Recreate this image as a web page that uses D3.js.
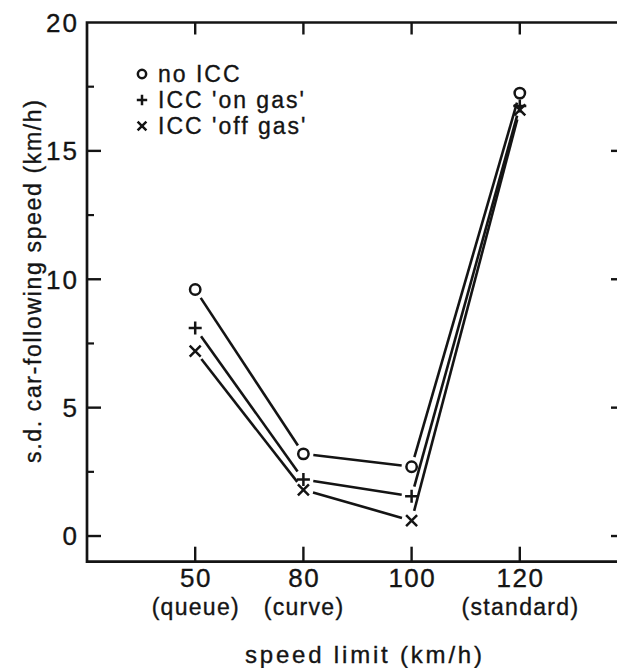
<!DOCTYPE html>
<html>
<head>
<meta charset="utf-8">
<script src="https://cdn.jsdelivr.net/npm/d3@7"></script>
<style>
  html, body { margin: 0; padding: 0; background: #fff; }
  svg { display: block; }
  text { font-family: "Liberation Sans", Arial, sans-serif; fill: #141414; stroke: #141414; stroke-width: 0.35px; }
</style>
</head>
<body>
<div id="chart"></div>
<script>
// ---- data ----
const categories = [50, 80, 100, 120];
const categoryNotes = ["(queue)", "(curve)", "", "(standard)"];
const noICC  = [9.6, 3.2, 2.7, 17.25];
const onGas  = [8.1, 2.2, 1.55, 16.75];
const offGas = [7.2, 1.8, 0.6, 16.6];
const seriesNames = ["no ICC", "ICC 'on gas'", "ICC 'off gas'"];
const yMajorTicks = [0, 5, 10, 15, 20];
const yMinorTicks = [2.5, 7.5, 12.5, 17.5];
const xTitle = "speed limit (km/h)";
const yTitle = "s.d. car-following speed (km/h)";

(function () {
const W = 617, H = 668;
const svg = d3.select("#chart").append("svg").attr("width", W).attr("height", H);

const x = d3.scaleLinear().domain([0, 5]).range([87, 628]);
const y = d3.scaleLinear().domain([-1, 20]).range([561.7, 22.5]);
const xi = i => x(i + 1);

const ink = "#141414";
const axisW = 2.7;

// frame
const yTop = y(20), yBot = y(-1), xLeft = x(0), xRight = x(5);
svg.append("path")
  .attr("d", `M${xRight},${yTop}H${xLeft}V${yBot}H${xRight}V${yTop}`)
  .attr("fill", "none").attr("stroke", ink).attr("stroke-width", axisW);

// y ticks (left and right, inward)
yMajorTicks.forEach(v => {
  if (v < 20) {
    svg.append("line").attr("x1", xLeft).attr("x2", xLeft + 14).attr("y1", y(v)).attr("y2", y(v))
      .attr("stroke", ink).attr("stroke-width", 2.4);
    svg.append("line").attr("x1", xRight).attr("x2", xRight - 17).attr("y1", y(v)).attr("y2", y(v))
      .attr("stroke", ink).attr("stroke-width", 2.4);
  }
  svg.append("text").attr("x", 79).attr("y", y(v)).attr("dy", "0.36em")
    .attr("text-anchor", "end").attr("font-size", 26).attr("letter-spacing", 2).text(v);
});
yMinorTicks.forEach(v => {
  svg.append("line").attr("x1", xLeft).attr("x2", xLeft + 7).attr("y1", y(v)).attr("y2", y(v))
    .attr("stroke", ink).attr("stroke-width", 2.2);
});

// x ticks (bottom up, top down)
categories.forEach((c, i) => {
  svg.append("line").attr("x1", xi(i)).attr("x2", xi(i)).attr("y1", yBot).attr("y2", yBot - 15)
    .attr("stroke", ink).attr("stroke-width", 2.4);
  svg.append("line").attr("x1", xi(i)).attr("x2", xi(i)).attr("y1", yTop).attr("y2", yTop + 12)
    .attr("stroke", ink).attr("stroke-width", 2.4);
  svg.append("text").attr("x", xi(i) + 0.75).attr("y", 587).attr("text-anchor", "middle")
    .attr("font-size", 26).attr("letter-spacing", 1.5).text(c);
  if (categoryNotes[i]) {
    svg.append("text").attr("x", xi(i) + 0.65).attr("y", 615).attr("text-anchor", "middle")
      .attr("font-size", 23).attr("letter-spacing", 1.3).text(categoryNotes[i]);
  }
});

// axis titles
svg.append("text").attr("x", 245).attr("y", 663)
  .attr("font-size", 24).attr("textLength", 237).attr("lengthAdjust", "spacing").text(xTitle);
svg.append("text").attr("transform", `translate(41,463) rotate(-90)`)
  .attr("font-size", 23).attr("textLength", 363).attr("lengthAdjust", "spacing").text(yTitle);

// markers
function drawMarker(g, type, cx, cy, k) {
  k = k || 1;
  if (type === 0) {
    g.append("circle").attr("cx", cx).attr("cy", cy).attr("r", 5.2 * k)
      .attr("fill", "none").attr("stroke", ink).attr("stroke-width", 2.5);
  } else if (type === 1) {
    const a = 6.5 * k;
    g.append("path").attr("d", `M${cx - a},${cy}H${cx + a}M${cx},${cy - a}V${cy + a}`)
      .attr("stroke", ink).attr("stroke-width", 2.5);
  } else {
    const a = 5.5 * k;
    g.append("path").attr("d", `M${cx - a},${cy - a}L${cx + a},${cy + a}M${cx - a},${cy + a}L${cx + a},${cy - a}`)
      .attr("stroke", ink).attr("stroke-width", 2.5);
  }
}

const series = [noICC, onGas, offGas];
const gap = 10;
series.forEach((vals, s) => {
  const g = svg.append("g");
  for (let i = 0; i < vals.length - 1; i++) {
    const x1 = xi(i), y1 = y(vals[i]), x2 = xi(i + 1), y2 = y(vals[i + 1]);
    const dx = x2 - x1, dy = y2 - y1, len = Math.hypot(dx, dy);
    const ux = dx / len, uy = dy / len;
    g.append("line")
      .attr("x1", x1 + ux * gap).attr("y1", y1 + uy * gap)
      .attr("x2", x2 - ux * gap).attr("y2", y2 - uy * gap)
      .attr("stroke", ink).attr("stroke-width", 2.6);
  }
  vals.forEach((v, i) => drawMarker(g, s, xi(i), y(v)));
});

// legend
seriesNames.forEach((name, s) => {
  const ly = 74 + s * 26;
  drawMarker(svg, s, 142, ly, 0.8);
  svg.append("text").attr("x", 158).attr("y", ly).attr("dy", "0.36em")
    .attr("font-size", 23).attr("letter-spacing", 2).text(name);
});
})();
</script>
</body>
</html>
